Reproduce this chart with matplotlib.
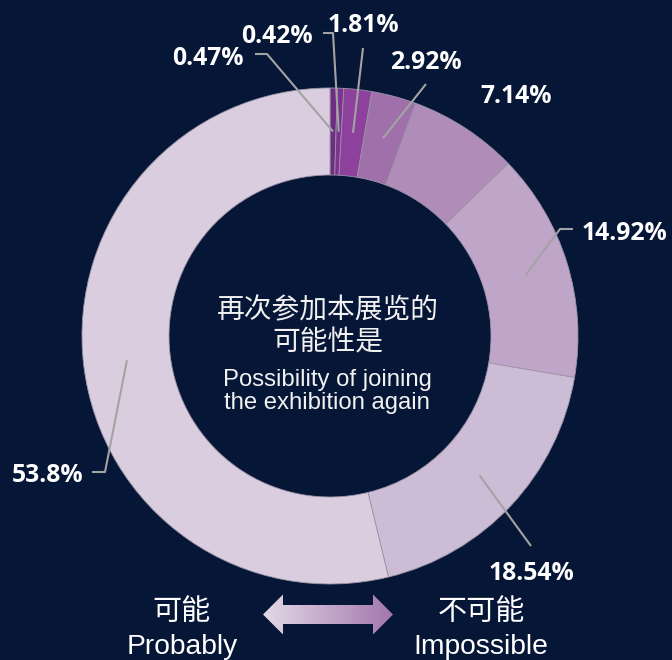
import numpy as np
import matplotlib
matplotlib.use("Agg")
import matplotlib.pyplot as plt
from matplotlib.patches import Polygon

# ---- data ----
values = [0.47, 0.42, 1.81, 2.92, 7.14, 14.92, 18.54, 53.8]
labels = ["0.47%", "0.42%", "1.81%", "2.92%", "7.14%", "14.92%", "18.54%", "53.8%"]
colors = ["#6e2c82", "#7d3390", "#8e409d", "#a070ab", "#b08cb9", "#bfa6c8", "#cdbcd6", "#dacde0"]
center_cn = ["再次参加本展览的", "可能性是"]
center_en = ["Possibility of joining", "the exhibition again"]
legend_left = ("可能", "Probably")
legend_right = ("不可能", "Impossible")

# ---- layout (pixel space, y down) ----
W, H = 672, 660
BG = "#061637"
CX, CY = 330, 336
R_OUT, R_IN = 248, 161

def Y(y):
    return H - y

# label layout: (text x, baseline y, ha, line path after start point)
label_layout = [
    (244, 65, "right", [(267, 54), (255, 54)]),
    (313, 43, "right", [(333, 33), (323, 33)]),
    (363, 32, "center", [(363, 48)]),
    (426, 69, "center", [(426, 84)]),
    (516, 103, "center", None),
    (582, 240, "left", [(560, 229), (573, 229)]),
    (531, 580, "center", [(531, 546)]),
    (83, 482, "right", [(105, 472), (92, 472)]),
]

fig = plt.figure(figsize=(W / 100, H / 100), dpi=100, facecolor=BG)
ax = fig.add_axes([0, 0, 1, 1])
ax.set_facecolor(BG)

ax.pie(values, colors=colors, startangle=90, counterclock=False,
       radius=R_OUT, center=(CX, Y(CY)),
       wedgeprops=dict(width=R_OUT - R_IN, edgecolor="#9c95a6", linewidth=0.6))
ax.set_xlim(0, W)
ax.set_ylim(0, H)
ax.set_aspect("equal")
ax.axis("off")

# leader lines + labels
total = sum(values)
cum = 0.0
r_mid = (R_OUT + R_IN) / 2
for v, lab, lay in zip(values, labels, label_layout):
    mid = (cum + v / 2) / total * 2 * np.pi
    cum += v
    sx = CX + r_mid * np.sin(mid)
    sy = CY - r_mid * np.cos(mid)
    tx, ty, ha, path = lay
    if path:
        xs = [sx] + [p[0] for p in path]
        ys = [Y(sy)] + [Y(p[1]) for p in path]
        ax.plot(xs, ys, color="#a3a3a3", lw=1.5, solid_capstyle="butt", zorder=5)
    ax.text(tx, Y(ty), lab, ha=ha, va="baseline", color="white",
            fontsize=17.8, fontweight="bold", family=["Open Sans", "DejaVu Sans"], zorder=6)

# center text
cn_fam = ["Noto Sans CJK SC", "DejaVu Sans"]
en_fam = ["Liberation Sans", "DejaVu Sans"]
ax.text(328, Y(310), center_cn[0], ha="center", va="center", color="#f2f2f2",
        fontsize=20, family=cn_fam)
ax.text(328, Y(342), center_cn[1], ha="center", va="center", color="#f2f2f2",
        fontsize=20, family=cn_fam)
ax.text(327, Y(386), center_en[0], ha="center", va="baseline", color="#f2f2f2",
        fontsize=17.2, family=en_fam)
ax.text(327, Y(409), center_en[1], ha="center", va="baseline", color="#f2f2f2",
        fontsize=17.2, family=en_fam)

# bottom legend
ax.text(182, Y(612), legend_left[0], ha="center", va="center", color="white",
        fontsize=21, family=cn_fam)
ax.text(182, Y(654), legend_left[1], ha="center", va="baseline", color="white",
        fontsize=20.3, family=en_fam)
ax.text(481, Y(612), legend_right[0], ha="center", va="center", color="white",
        fontsize=21, family=cn_fam)
ax.text(481, Y(654), legend_right[1], ha="center", va="baseline", color="white",
        fontsize=20.3, family=en_fam)

# gradient double arrow
x0, x1 = 263, 393
hl = 20
ym = 614.5
sh, hh = 9.5, 20
pts = [(x0, ym), (x0 + hl, ym - hh), (x0 + hl, ym - sh), (x1 - hl, ym - sh),
       (x1 - hl, ym - hh), (x1, ym), (x1 - hl, ym + hh), (x1 - hl, ym + sh),
       (x0 + hl, ym + sh), (x0 + hl, ym + hh)]
poly = Polygon([(px, Y(py)) for px, py in pts], closed=True, facecolor="none",
               edgecolor="none")
ax.add_patch(poly)
c0 = np.array(matplotlib.colors.to_rgb("#e3d8e7"))
c1 = np.array(matplotlib.colors.to_rgb("#a377ad"))
t = np.linspace(0, 1, 256)
grad = (c0[None, :] * (1 - t[:, None]) + c1[None, :] * t[:, None])[None, :, :]
im = ax.imshow(grad, extent=(x0, x1, Y(ym + hh), Y(ym - hh)), aspect="auto",
               interpolation="bilinear", zorder=3)
im.set_clip_path(poly)
ax.set_xlim(0, W)
ax.set_ylim(0, H)

fig.savefig("out.png", dpi=100, facecolor=BG)
